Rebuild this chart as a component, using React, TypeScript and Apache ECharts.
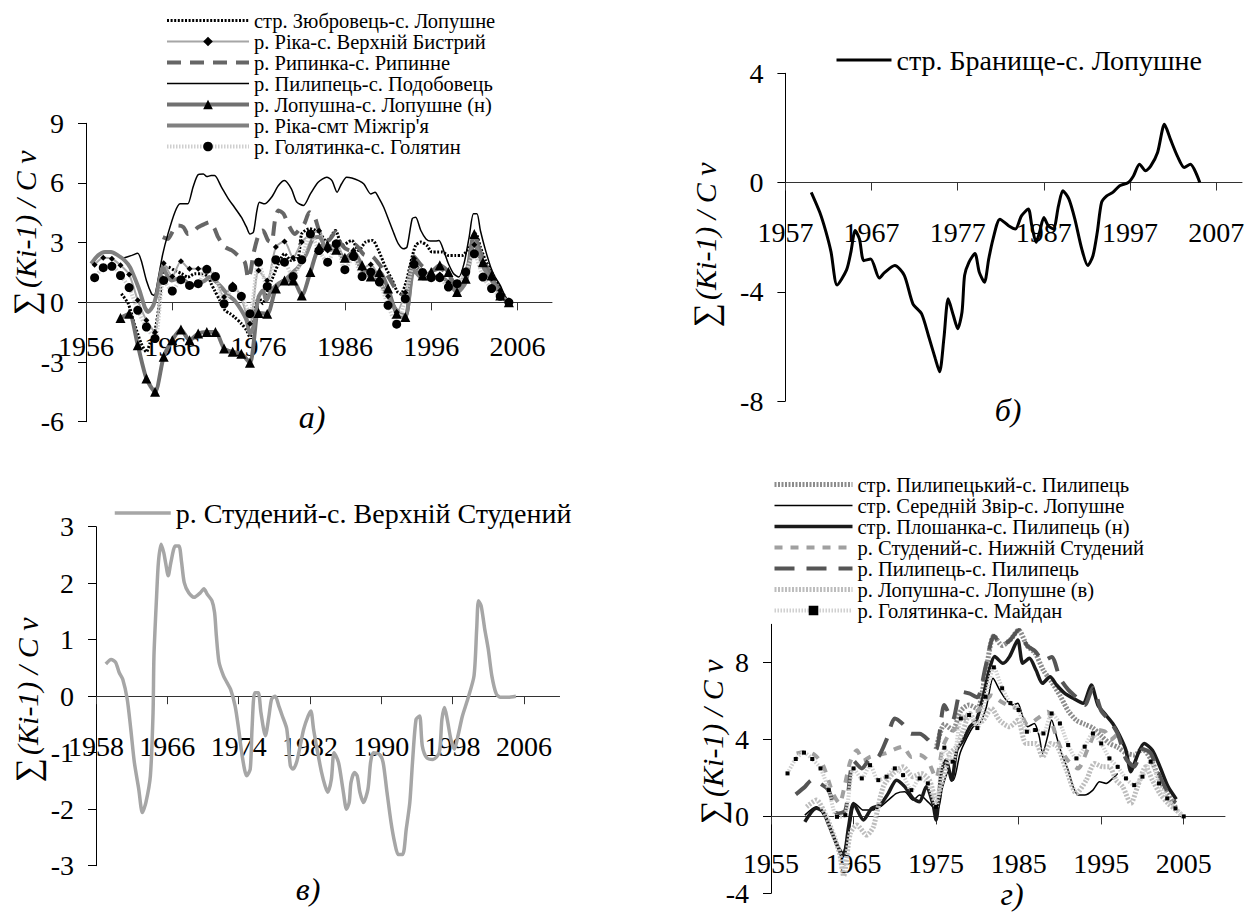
import React, { useEffect, useRef } from "react";
import * as echarts from "echarts";

const FONT = "Liberation Serif";

// ---------- Panel а) ----------
const A_NAMES = [
  "стр. Зюбровець-с. Лопушне",
  "р. Ріка-с. Верхній Бистрий",
  "р. Рипинка-с. Рипинне",
  "р. Пилипець-с. Подобовець",
  "р. Лопушна-с. Лопушне (н)",
  "р. Ріка-смт Міжгір'я",
  "р. Голятинка-с. Голятин",
];
const A_XTICKS = [1956, 1966, 1976, 1986, 1996, 2006];
const A_YTICKS = [-6, -3, 0, 3, 6, 9];

const A1: number[][] = [[1960.1,0.43],[1960.9,-0.07],[1961.6,-1.07],[1962.4,-2.07],[1963.0,-2.49],[1963.4,-2.07],[1964.0,-1.4],[1964.5,-0.07],[1964.9,1.6],[1965.5,1.77],[1966.3,1.6],[1967.1,1.44],[1967.8,1.27],[1968.6,1.44],[1969.4,1.44],[1970.2,1.27],[1970.5,0.94],[1970.9,0.6],[1971.5,0.1],[1972.1,-0.4],[1972.7,-0.57],[1973.2,-0.74],[1974.0,-1.07],[1974.6,-1.4],[1975.0,-1.74],[1975.3,-1.4],[1975.6,-0.4],[1976.0,0.27],[1976.5,-0.07],[1976.9,0.43],[1977.5,1.1],[1978.3,1.94],[1979.0,2.44],[1979.8,2.1],[1980.6,2.27],[1981.0,3.44],[1981.9,3.7],[1983.0,3.53],[1983.9,3.03],[1984.9,3.61],[1985.7,2.86],[1986.8,3.11],[1987.6,2.61],[1988.4,3.03],[1989.2,3.11],[1989.9,2.61],[1990.7,1.77],[1991.5,1.1],[1992.1,0.52],[1992.5,0.43],[1993.1,1.02],[1993.6,1.94],[1994.2,2.86],[1994.8,3.03],[1995.5,2.86],[1996.1,2.53],[1996.7,2.53],[1997.3,2.53],[1998.0,2.36],[1998.8,2.36],[1999.6,2.36],[2000.2,2.61],[2000.8,3.03],[2001.2,3.44],[2001.7,2.78],[2002.3,2.1],[2003.1,1.44],[2003.8,0.85],[2004.4,0.35],[2005.0,0]];
const A2: number[][] = [[1957,1.89],[1958,2.24],[1959,2.19],[1960,1.86],[1961,1.4],[1962,0.1],[1963,-0.9],[1964,-1.5],[1965,1.97],[1966,1.3],[1967,2.07],[1968,1.69],[1969,1.69],[1970,1.69],[1971,1.2],[1972,0.27],[1973,0.9],[1974,0.2],[1975,-1.07],[1976,1.6],[1977,1.1],[1978,2.78],[1979,3.06],[1980,2.24],[1981,3.03],[1982,3.4],[1983,3.6],[1984,2.6],[1985,3.0],[1986,2.2],[1987,2.6],[1988,1.7],[1989,1.9],[1990,1.2],[1991,0.3],[1992,-0.5],[1993,0.5],[1994,2.2],[1995,1.4],[1996,1.3],[1997,1.4],[1998,1.0],[1999,1.0],[2000,1.5],[2001,2.9],[2002,2.0],[2003,1.2],[2004,0.6],[2005,0]];
const A3: number[][] = [[1964.9,3.28],[1965.5,3.19],[1966.1,3.61],[1966.7,3.86],[1967.3,3.78],[1967.8,3.44],[1968.4,3.53],[1969.0,3.78],[1969.8,3.95],[1970.3,4.03],[1970.9,3.7],[1971.3,3.28],[1972.1,2.78],[1972.9,2.61],[1973.6,2.36],[1974.4,2.02],[1974.8,1.19],[1975.1,1.6],[1975.4,2.44],[1976.1,3.53],[1976.5,3.61],[1977.1,3.11],[1977.5,3.03],[1977.9,4.11],[1978.3,4.62],[1978.9,4.45],[1979.4,3.95],[1980.2,3.44],[1980.8,3.7],[1981.3,3.95],[1981.9,4.53],[1982.5,4.28],[1983.1,3.53],[1984.1,3.11],[1984.9,3.53],[1985.6,2.9],[1986.6,2.6],[1987.2,2.9],[1988.2,2.4],[1989.2,2.3],[1990.0,1.9],[1991.0,1.3],[1992.0,0.6],[1993.0,0.3],[1994.0,2.3],[1995.0,1.8],[1996.0,1.6],[1997.0,1.7],[1998.0,1.4],[1999.0,0.8],[2000.0,1.4],[2001.0,3.2],[2002.0,2.2],[2003.0,1.3],[2004.0,0.6],[2005.0,0]];
const A4: number[][] = [[1960.1,2.19],[1961.3,2.36],[1962.0,2.47],[1962.4,2.1],[1963.0,1.1],[1963.6,0.43],[1963.9,0.35],[1964.4,1.27],[1964.9,2.44],[1965.5,3.44],[1966.3,4.53],[1966.9,4.95],[1967.4,4.95],[1967.8,4.95],[1968.4,5.79],[1969.0,6.42],[1969.6,6.45],[1970.0,6.32],[1970.5,6.37],[1970.9,6.37],[1971.7,5.79],[1972.5,5.2],[1973.2,4.78],[1974.0,4.28],[1974.6,3.78],[1975.0,3.44],[1975.4,3.53],[1975.8,4.6],[1976.1,5.03],[1976.7,4.95],[1977.5,5.28],[1978.3,5.87],[1979.0,6.12],[1979.8,5.7],[1980.4,5.05],[1981.2,4.87],[1982.0,5.45],[1982.9,6.04],[1983.9,6.29],[1984.5,6.12],[1985.1,5.54],[1985.6,5.95],[1986.2,6.29],[1986.8,6.25],[1987.6,6.12],[1988.2,5.95],[1989.0,5.45],[1989.5,5.54],[1989.9,5.28],[1990.5,4.78],[1991.1,4.11],[1991.7,3.44],[1992.2,2.94],[1992.8,2.69],[1993.2,2.78],[1993.8,4.2],[1994.2,4.28],[1994.8,3.61],[1995.4,3.19],[1995.9,3.08],[1996.5,3.08],[1996.9,3.11],[1997.5,2.53],[1998.0,1.94],[1998.6,1.44],[1999.2,1.27],[1999.8,1.94],[2000.4,3.28],[2000.9,4.45],[2001.3,4.45],[2001.7,3.61],[2002.3,2.61],[2002.9,1.77],[2003.4,1.27],[2004.0,0.85],[2004.6,0.27],[2005.2,0]];
const A5: number[][] = [[1960,-0.79],[1961,-0.57],[1962,-2.16],[1963,-3.83],[1964,-4.5],[1965,-2.74],[1966,-1.9],[1967,-1.37],[1968,-1.9],[1969,-1.57],[1970,-1.49],[1971,-1.49],[1972,-2.32],[1973,-2.49],[1974,-2.58],[1975,-3.04],[1976,-0.54],[1977,-0.57],[1978,0.69],[1979,1.1],[1980,1.1],[1981,0.35],[1982,1.52],[1983,2.78],[1984,2.86],[1985,2.64],[1986,2.24],[1987,2.53],[1988,1.86],[1989,1.3],[1990,1.52],[1991,0.69],[1992,-0.57],[1993,-0.74],[1994,2.02],[1995,1.35],[1996,1.52],[1997,1.86],[1998,1.52],[1999,0.52],[2000,1.19],[2001,3.44],[2002,2.02],[2003,1.35],[2004,0.35],[2005,0]];
const A6: number[][] = [[1956.6,1.94],[1957.4,2.36],[1958.2,2.53],[1958.9,2.53],[1959.7,2.36],[1960.5,2.1],[1961.1,1.77],[1961.6,1.27],[1962.2,0.6],[1962.8,-0.23],[1963.2,-0.48],[1963.8,-0.15],[1964.2,0.43],[1964.5,1.1],[1964.9,1.77],[1965.3,1.44],[1965.9,1.1],[1966.7,1.19],[1967.4,1.1],[1968.2,0.85],[1969.0,0.94],[1969.8,1.1],[1970.3,1.27],[1970.9,1.1],[1971.7,0.77],[1972.5,0.35],[1973.2,0.1],[1974.0,-0.4],[1974.6,-0.9],[1975.0,-1.57],[1975.4,-1.24],[1976.0,0.27],[1976.5,0.6],[1976.9,0.1],[1977.5,0.6],[1978.3,0.94],[1979.0,1.1],[1979.8,1.44],[1980.6,1.77],[1981.5,2.4],[1982.3,3.2],[1983.0,3.3],[1984.0,2.6],[1985.0,2.7],[1986.0,2.1],[1987.0,2.3],[1988.0,1.6],[1989.0,1.3],[1990.0,1.0],[1991.0,0.3],[1992.0,-0.4],[1993.0,-0.7],[1994.0,1.6],[1995.0,1.2],[1996.0,1.2],[1997.0,1.3],[1998.0,1.0],[1999.0,0.5],[2000.0,1.0],[2001.0,3.0],[2002.0,1.8],[2003.0,1.1],[2004.0,0.4],[2005.0,0]];
const A7: number[][] = [[1957,1.24],[1958,1.74],[1959,1.81],[1960,1.35],[1961,0.74],[1962,-0.4],[1963,-1.24],[1964,-1.82],[1965,1.1],[1966,0.57],[1967,1.14],[1968,0.85],[1969,0.94],[1970,1.66],[1971,1.3],[1972,-0.07],[1973,0.74],[1974,0.3],[1975,-0.57],[1976,2.02],[1977,0.8],[1978,2.14],[1979,2.02],[1980,1.3],[1981,2.14],[1982,3.44],[1983,2.6],[1984,2.02],[1985,2.94],[1986,1.64],[1987,2.3],[1988,1.3],[1989,1.52],[1990,1.02],[1991,-0.15],[1992,-1.1],[1993,0.18],[1994,1.91],[1995,1.5],[1996,1.24],[1997,1.24],[1998,0.77],[1999,0.94],[2000,1.52],[2001,2.44],[2002,1.27],[2003,0.69],[2004,0.3],[2005,0]];

// ---------- Panel б) ----------
const B_NAME = "стр. Бранище-с. Лопушне";
const B_XTICKS = [1957, 1967, 1977, 1987, 1997, 2007];
const B_YTICKS = [-8, -4, 0, 4];
const B1: number[][] = [[1960.0,-0.36],[1961.0,-1.1],[1961.7,-1.8],[1962.3,-2.55],[1963.0,-3.75],[1964.1,-3.2],[1964.6,-2.55],[1965.1,-1.76],[1965.6,-2.07],[1966.1,-2.86],[1966.9,-2.8],[1967.9,-3.5],[1968.5,-3.3],[1969.7,-3.04],[1970.8,-3.4],[1971.8,-4.44],[1972.8,-4.8],[1973.6,-5.6],[1974.4,-6.45],[1974.9,-6.93],[1975.4,-5.7],[1975.9,-4.26],[1976.5,-4.87],[1977.0,-5.35],[1977.5,-4.74],[1977.8,-3.4],[1978.3,-2.92],[1979.0,-2.6],[1979.5,-3.28],[1980.1,-3.65],[1980.6,-2.8],[1981.1,-2.07],[1981.9,-1.34],[1982.9,-1.58],[1983.7,-1.7],[1984.4,-1.22],[1985.2,-0.97],[1985.6,-1.58],[1986.1,-2.19],[1986.5,-1.82],[1987.0,-1.28],[1987.5,-1.58],[1988.1,-1.7],[1988.7,-0.85],[1989.2,-0.3],[1989.9,-0.6],[1990.6,-1.34],[1991.4,-2.43],[1992.1,-3.04],[1992.7,-2.68],[1993.2,-1.82],[1993.7,-0.73],[1994.3,-0.49],[1995.0,-0.36],[1995.8,-0.12],[1996.8,0.0],[1997.4,0.24],[1998.1,0.67],[1998.8,0.43],[1999.4,0.6],[2000.2,1.1],[2001.0,2.13],[2001.7,1.58],[2002.5,0.97],[2003.3,0.55],[2004.0,0.67],[2005.1,0.0]];

// ---------- Panel в) ----------
const V_NAME = "р. Студений-с. Верхній Студений";
const V_XTICKS = [1958, 1966, 1974, 1982, 1990, 1998, 2006];
const V_YTICKS = [-3, -2, -1, 0, 1, 2, 3];
const V1: number[][] = [[1959.1,0.57],[1959.7,0.65],[1960.2,0.6],[1960.6,0.42],[1961.0,0.3],[1961.5,-0.05],[1961.9,-0.58],[1962.3,-1.17],[1962.8,-1.65],[1963.2,-2.06],[1963.6,-1.88],[1964.1,-1.41],[1964.4,-0.29],[1964.5,0.71],[1964.8,1.78],[1965.0,2.37],[1965.3,2.69],[1965.6,2.54],[1965.8,2.37],[1966.1,2.13],[1966.4,2.37],[1966.9,2.66],[1967.3,2.66],[1967.6,2.37],[1967.9,2.01],[1968.4,1.83],[1969.0,1.75],[1969.7,1.83],[1970.1,1.9],[1970.5,1.8],[1971.0,1.69],[1971.3,1.48],[1971.5,1.07],[1971.8,0.6],[1972.3,0.36],[1972.7,0.24],[1973.1,0.12],[1973.6,-0.17],[1974.0,-0.58],[1974.4,-1.06],[1974.9,-1.41],[1975.3,-1.29],[1975.5,-0.58],[1975.8,0.06],[1976.2,0.06],[1976.5,-0.29],[1977.0,-0.7],[1977.4,-0.35],[1977.7,-0.05],[1978.1,0],[1978.5,-0.17],[1978.9,-0.35],[1979.4,-0.58],[1979.8,-1.23],[1980.1,-1.29],[1980.5,-1.17],[1980.9,-0.88],[1981.3,-0.58],[1981.8,-0.35],[1982.1,-0.26],[1982.4,-0.58],[1982.8,-0.94],[1983.3,-1.35],[1983.7,-1.59],[1984.0,-1.7],[1984.4,-1.47],[1984.7,-1.0],[1985.2,-1.17],[1985.7,-1.65],[1986.1,-2.0],[1986.4,-1.88],[1986.6,-1.53],[1987.0,-1.35],[1987.3,-1.41],[1987.6,-1.7],[1988.0,-1.88],[1988.5,-1.65],[1988.8,-1.17],[1989.1,-1.0],[1989.8,-1.03],[1990.2,-1.17],[1990.6,-1.65],[1991.1,-2.24],[1991.5,-2.59],[1991.9,-2.8],[1992.4,-2.8],[1992.8,-2.35],[1993.2,-1.88],[1993.5,-1.17],[1993.9,-0.41],[1994.3,-0.35],[1994.6,-0.88],[1995.1,-1.09],[1995.8,-1.12],[1996.5,-1.0],[1996.8,-0.41],[1997.1,-0.2],[1997.4,-0.41],[1997.8,-0.76],[1998.2,-0.94],[1998.6,-0.7],[1999.1,-0.35],[1999.7,-0.05],[2000.4,0.36],[2000.7,1.19],[2000.9,1.69],[2001.2,1.6],[2001.6,1.19],[2002.0,0.83],[2002.4,0.36],[2002.9,0.04],[2003.4,-0.02],[2004.2,-0.02],[2005.1,0]];

// ---------- Panel г) ----------
const G_NAMES = [
  "стр. Пилипецький-с. Пилипець",
  "стр. Середній Звір-с. Лопушне",
  "стр. Плошанка-с. Пилипець (н)",
  "р. Студений-с. Нижній Студений",
  "р. Пилипець-с. Пилипець",
  "р. Лопушна-с. Лопушне (в)",
  "р. Голятинка-с. Майдан",
];
const G_XTICKS = [1955, 1965, 1975, 1985, 1995, 2005];
const G_YTICKS = [-4, 0, 4, 8];
const G1: number[][] = [[1975,3.5],[1976,4.8],[1977,4.5],[1978,5.5],[1979,5.8],[1980,5.6],[1981,7.5],[1982,9.4],[1983,8.9],[1984,9.2],[1985,9.7],[1986,8.9],[1987,8.5],[1988,7.6],[1989,7.0],[1990,6.3],[1991,5.5],[1992,5.0],[1993,4.8],[1994,4.6],[1995,4.2],[1996,3.8],[1997,3.6],[1998,3.3],[1999,3.2],[2000,3.5],[2001,3.0],[2002,2.0],[2003,1.2],[2004,0.5]];
const G2: number[][] = [[1959.1,0.07],[1960.5,0.5],[1961.7,-0.19],[1962.9,-1.4],[1963.5,-2.1],[1964.4,-0.89],[1965.2,0.68],[1966.2,0.33],[1967.2,0.33],[1968.2,0.5],[1969.2,0.85],[1970.2,1.2],[1971.2,1.28],[1972.2,0.85],[1973.0,1.11],[1973.8,0.85],[1974.6,0.5],[1975.2,0.33],[1975.8,1.55],[1976.5,2.33],[1977.1,1.89],[1977.9,3.28],[1978.7,4.06],[1979.5,4.67],[1980.3,4.84],[1981.1,5.71],[1981.9,7.19],[1982.7,6.58],[1983.5,6.06],[1984.3,5.8],[1984.9,5.89],[1985.5,5.19],[1986.1,4.67],[1986.9,4.84],[1987.5,4.15],[1987.9,3.28],[1988.5,4.15],[1989.0,5.02],[1989.6,4.15],[1990.2,3.28],[1991.0,2.41],[1991.6,1.55],[1992.2,1.11],[1993.0,1.11],[1994.0,1.37],[1994.8,1.8],[1995.6,1.72],[1996.4,1.98],[1997.0,2.24]];
const G3: number[][] = [[1959.1,-0.28],[1960.5,0.42],[1961.3,0.24],[1962.1,-0.54],[1963.1,-1.58],[1963.8,-2.0],[1964.4,-0.54],[1965.0,0.68],[1966.2,-0.19],[1967.2,0.42],[1968.2,0.59],[1969.2,1.2],[1970.2,1.89],[1971.2,1.55],[1972.2,0.94],[1973.0,0.76],[1973.8,1.55],[1974.6,0.68],[1975.0,-0.19],[1975.6,2.24],[1976.2,2.93],[1976.9,1.89],[1977.5,3.45],[1978.3,3.98],[1979.1,4.67],[1979.9,5.02],[1980.7,6.23],[1981.5,7.71],[1982.1,8.32],[1983.1,7.97],[1983.9,8.32],[1984.9,9.18],[1985.5,7.97],[1986.3,8.23],[1987.1,7.62],[1987.9,6.93],[1988.8,7.27],[1989.6,6.84],[1990.6,6.4],[1991.6,6.15],[1992.8,5.89],[1993.8,6.84],[1994.6,5.8],[1995.4,5.36],[1996.4,4.84],[1997.2,4.24],[1998.0,3.45],[1998.6,2.33],[1999.4,3.19],[2000.2,3.8],[2001.2,3.45],[2002.1,2.6],[2003.1,1.55],[2004.1,0.9]];
const G4: number[][] = [[1958.1,3.28],[1959.3,3.37],[1960.3,3.2],[1961.3,2.67],[1962.5,1.2],[1963.3,0.68],[1963.9,1.55],[1964.6,2.85],[1965.4,3.45],[1966.2,2.9],[1967.0,3.1],[1968.0,3.2],[1969.0,3.3],[1970.0,3.5],[1971.0,3.63],[1972.0,3.1],[1973.0,3.2],[1974.0,2.9],[1975.0,2.0],[1975.8,3.6],[1976.6,4.3],[1977.5,4.6],[1978.3,5.0],[1979.1,5.45],[1980.0,5.5],[1980.7,5.8],[1981.7,6.3],[1982.9,5.97],[1984.1,5.7],[1985.0,5.6],[1986.1,4.76],[1987.3,5.1],[1988.5,5.45],[1989.3,4.5],[1990.1,3.54],[1991.0,2.9],[1992.2,2.5],[1993.4,3.54],[1994.6,4.5],[1995.5,4.4],[1996.1,3.98],[1997.0,4.3]];
const G5: number[][] = [[1958,1.15],[1959,1.5],[1960,1.9],[1961,1.7],[1962,1.35],[1963,0.15],[1964,0.3],[1965,2.9],[1966,2.5],[1967,3.0],[1968,3.1],[1969,4.0],[1970,5.1],[1971,4.8],[1972,4.3],[1973,4.3],[1974,4.0],[1975,3.5],[1976,5.8],[1977,5.0],[1978,6.5],[1979,6.4],[1980,6.2],[1981,7.8],[1982,9.4],[1983,8.9],[1984,9.2],[1985,9.7],[1986,8.9],[1987,8.6],[1988,8.1],[1989,8.3],[1990,7.2],[1991,6.6],[1992,6.2],[1993,5.8],[1994,6.7],[1995,5.5],[1996,5.0],[1997,4.3],[1998,3.0],[1999,2.6],[2000,3.5],[2001,3.3],[2002,2.2],[2003,1.3],[2004,0.7]];
const G6: number[][] = [[1959.3,0.5],[1960.5,0.85],[1961.7,0.0],[1962.6,-1.0],[1963.3,-1.9],[1963.8,-3.1],[1964.6,-0.89],[1965.4,-0.45],[1966.6,-0.97],[1967.4,-0.54],[1968.6,1.55],[1969.8,2.24],[1971.0,2.58],[1972.2,2.07],[1973.2,2.24],[1974.2,1.89],[1975.0,0.85],[1975.8,1.89],[1976.7,3.28],[1977.5,3.63],[1978.3,4.5],[1979.1,5.36],[1979.9,4.84],[1980.7,5.0],[1981.7,5.62],[1982.7,5.0],[1983.9,4.67],[1984.9,5.0],[1985.9,3.8],[1987.1,3.8],[1987.9,3.1],[1988.9,3.8],[1989.7,3.63],[1990.8,2.41],[1992.0,1.2],[1993.2,1.89],[1994.2,2.76],[1995.2,2.58],[1996.0,2.58],[1996.8,1.89],[1997.6,1.55],[1998.6,0.68],[1999.4,1.55],[2000.4,2.58],[2001.2,1.89],[2002.1,1.2],[2003.1,0.68],[2004.1,0.33],[2004.9,0]];
const G7: number[][] = [[1957,2.24],[1958,2.99],[1959,3.32],[1960,2.99],[1961,2.5],[1962,1.37],[1963,-0.02],[1964,0.07],[1965,2.5],[1966,1.98],[1967,2.67],[1968,1.89],[1969,2.07],[1970,2.5],[1971,2.15],[1972,1.37],[1973,1.98],[1974,1.72],[1975,0.5],[1976,3.58],[1977,2.85],[1978,5.1],[1979,5.28],[1980,4.6],[1981,6.23],[1982,7.76],[1983,6.67],[1984,5.9],[1985,5.54],[1986,4.41],[1987,4.5],[1988,4.32],[1989,5.36],[1990,4.84],[1991,3.72],[1992,3.02],[1993,3.63],[1994,4.32],[1995,3.8],[1996,3.02],[1997,2.58],[1998,1.98],[1999,1.63],[2000,2.07],[2001,2.85],[2002,1.72],[2003,0.94],[2004,0.42],[2005,0]];

const CAPTIONS = ["а)", "б)", "в)", "г)"];
const YNAME_MAIN = "(Ki-1) / C ν";

// series that have no markers: legend shows only their line
const NO_MARKER = new Set<string>([
  A_NAMES[0], A_NAMES[2], A_NAMES[3], A_NAMES[5], B_NAME, V_NAME,
  G_NAMES[0], G_NAMES[1], G_NAMES[2], G_NAMES[3], G_NAMES[4], G_NAMES[5],
]);

function xAxis(gridIndex: number, min: number, ticks: number[], margin: number, zeroOffset: number) {
  return {
    type: "value", gridIndex, min, max: 2010, position: "bottom", offset: -zeroOffset,
    axisLine: { onZero: false, lineStyle: { color: "#333", width: 1 } },
    axisTick: { show: true, inside: false, length: 8, customValues: ticks, lineStyle: { color: "#333" } },
    axisLabel: { customValues: ticks, margin, fontFamily: FONT, fontSize: 28, color: "#000", formatter: (v: number) => String(v), hideOverlap: false },
    splitLine: { show: false },
  };
}
function yAxis(gridIndex: number, min: number, max: number, interval: number, ticks: number[]) {
  return {
    type: "value", gridIndex, min, max, interval,
    axisLine: { show: true, onZero: false, lineStyle: { color: "#000", width: 1 } },
    axisTick: { show: true, inside: false, length: 8, customValues: ticks, lineStyle: { color: "#000" } },
    axisLabel: { customValues: ticks, margin: 22, fontFamily: FONT, fontSize: 28, color: "#000", formatter: (v: number) => String(v) },
    splitLine: { show: false },
  };
}
function line(name: string, idx: number, data: number[][], lineStyle: any, marker?: { symbol: string; size: number }) {
  return {
    type: "line", name, xAxisIndex: idx, yAxisIndex: idx, data,
    smooth: 0.25,
    symbol: marker ? marker.symbol : "none",
    showSymbol: !!marker,
    symbolSize: marker ? marker.size : 0,
    itemStyle: { color: "#000", borderWidth: 0 },
    lineStyle,
    emphasis: { disabled: true },
    z: 2,
  };
}
function yName(x: number, y: number) {
  return {
    type: "text", x, y, rotation: Math.PI / 2,
    style: {
      text: "{s|∑} {i|" + YNAME_MAIN + "}",
      align: "center", verticalAlign: "middle",
      rich: {
        s: { fontFamily: FONT, fontSize: 34, fill: "#000" },
        i: { fontFamily: FONT, fontSize: 30, fontStyle: "italic", fill: "#000" },
      },
    },
  };
}
function caption(text: string, x: number, y: number) {
  return {
    type: "text", x, y,
    style: { text, fontFamily: FONT, fontSize: 32, fontStyle: "italic", fill: "#000", align: "center", verticalAlign: "middle" },
  };
}
function legend(names: string[], left: number, top: number, itemWidth: number, fontSize: number, lineHeight: number) {
  return {
    orient: "vertical", left, top, itemWidth, itemHeight: 12, itemGap: 0,
    selectedMode: false,
    data: names.map((n) =>
      NO_MARKER.has(n) ? { name: n, itemStyle: { color: "rgba(0,0,0,0)", borderColor: "rgba(0,0,0,0)", borderWidth: 0 } } : { name: n }
    ),
    lineStyle: { width: "inherit" },
    itemStyle: { borderWidth: 0 },
    textStyle: { fontFamily: FONT, fontSize, color: "#000", lineHeight },
    padding: 0,
  };
}

export default function App() {
  const ref = useRef<HTMLDivElement>(null);
  useEffect(() => {
    if (!ref.current) return;
    const chart = echarts.init(ref.current, undefined, { renderer: "svg" });
    const option: any = {
      animation: false,
      backgroundColor: "#fff",
      textStyle: { fontFamily: FONT },
      grid: [
        { left: 86, top: 123.3, width: 466, height: 298.4 },
        { left: 785.4, top: 73.3, width: 456.6, height: 327.7 },
        { left: 96, top: 526.7, width: 463.6, height: 339 },
        { left: 771, top: 624.3, width: 454, height: 269 },
      ],
      xAxis: [
        xAxis(0, 1956, A_XTICKS, 30, (6 / 15) * 298.4),
        xAxis(1, 1957, B_XTICKS, 36, (8 / 12) * 327.7),
        xAxis(2, 1958, V_XTICKS, 36, (3 / 6) * 339),
        xAxis(3, 1955, G_XTICKS, 33, (4 / 14) * 269),
      ],
      yAxis: [
        yAxis(0, -6, 9, 3, A_YTICKS),
        yAxis(1, -8, 4, 4, B_YTICKS),
        yAxis(2, -3, 3, 1, V_YTICKS),
        yAxis(3, -4, 10, 2, G_YTICKS),
      ],
      legend: [
        legend(A_NAMES, 165, 10, 82, 20.5, 20.6),
        legend([B_NAME], 835, 45, 55, 28, 30),
        legend([V_NAME], 113, 498, 56, 28, 30),
        legend(G_NAMES, 772, 474, 78, 20.5, 20.9),
      ],
      series: [
        line(A_NAMES[0], 0, A1, { color: "#000", width: 3, type: [2, 1.6] }),
        line(A_NAMES[1], 0, A2, { color: "#a6a6a6", width: 2 }, { symbol: "diamond", size: 6 }),
        line(A_NAMES[2], 0, A3, { color: "#666", width: 4, type: [14, 9] }),
        line(A_NAMES[3], 0, A4, { color: "#000", width: 1.5 }),
        line(A_NAMES[4], 0, A5, { color: "#707070", width: 4 }, { symbol: "triangle", size: 10 }),
        line(A_NAMES[5], 0, A6, { color: "#808080", width: 4 }),
        line(A_NAMES[6], 0, A7, { color: "#cfcfcf", width: 4, type: [1.5, 1.5] }, { symbol: "circle", size: 9 }),

        line(B_NAME, 1, B1, { color: "#000", width: 3 }),

        line(V_NAME, 2, V1, { color: "#a6a6a6", width: 3.5 }),

        line(G_NAMES[0], 3, G1, { color: "#8c8c8c", width: 5, type: [2, 1.5] }),
        line(G_NAMES[1], 3, G2, { color: "#000", width: 1.5 }),
        line(G_NAMES[2], 3, G3, { color: "#1a1a1a", width: 3.5 }),
        line(G_NAMES[3], 3, G4, { color: "#a0a0a0", width: 4, type: [8, 8] }),
        line(G_NAMES[4], 3, G5, { color: "#555", width: 4, type: [20, 12] }),
        line(G_NAMES[5], 3, G6, { color: "#bdbdbd", width: 5, type: [2, 1.5] }),
        line(G_NAMES[6], 3, G7, { color: "#d0d0d0", width: 4, type: [1.5, 1.5] }, { symbol: "rect", size: 4 }),
      ],
      graphic: [
        yName(25, 233),
        yName(705, 245),
        yName(27, 700),
        yName(712, 742),
        caption(CAPTIONS[0], 312, 417),
        caption(CAPTIONS[1], 1008, 410),
        caption(CAPTIONS[2], 308, 889),
        caption(CAPTIONS[3], 1012, 894),
      ],
    };
    chart.setOption(option);
    return () => chart.dispose();
  }, []);
  return (
    <div
      ref={ref}
      style={{ position: "absolute", left: 0, top: 0, width: 1252, height: 912, background: "#fff" }}
    />
  );
}
